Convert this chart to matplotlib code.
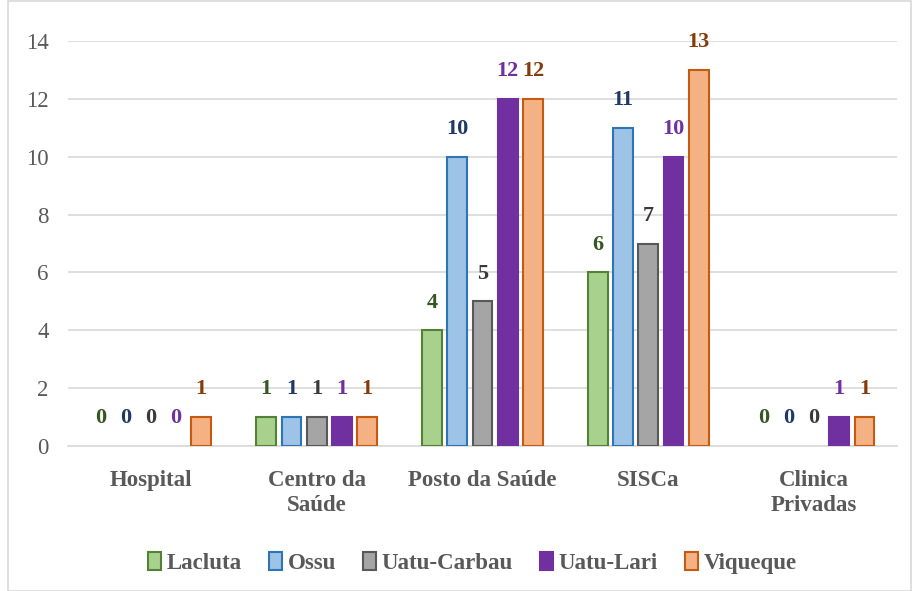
import matplotlib.pyplot as plt
import numpy as np
from matplotlib.patches import Rectangle, Patch

categories = ["Hospital", "Centro da\nSaúde", "Posto da Saúde", "SISCa", "Clinica\nPrivadas"]
series = ["Lacluta", "Ossu", "Uatu-Carbau", "Uatu-Lari", "Viqueque"]
lacluta = [0, 1, 4, 6, 0]
ossu = [0, 1, 10, 11, 0]
uatu_carbau = [0, 1, 5, 7, 0]
uatu_lari = [0, 1, 12, 10, 1]
viqueque = [1, 1, 12, 13, 1]

fills = ["#A9D18E", "#9DC3E6", "#A5A5A5", "#7030A0", "#F4B183"]
edges = ["#538135", "#2E75B6", "#595959", "#7030A0", "#C55A11"]
label_colors = ["#375623", "#1F3864", "#3A3A3A", "#7030A0", "#843C0C"]

plt.rcParams['font.family'] = ['Liberation Serif', 'DejaVu Serif']

fig = plt.figure(figsize=(9.14, 5.91), dpi=100)
ax = fig.add_axes([0.0744, 0.2453, 0.9070, 0.6853])

x = np.arange(len(categories))
width = 0.12
pitch = 0.152
data = [lacluta, ossu, uatu_carbau, uatu_lari, viqueque]

for i, vals in enumerate(data):
    pos = x + (i - 2) * pitch
    # zero bars get no outline
    ec = [edges[i] if v > 0 else 'none' for v in vals]
    ax.bar(pos, vals, width, color=fills[i], edgecolor=ec, linewidth=1.5, zorder=3)
    for p, v in zip(pos, vals):
        ax.annotate(str(v), (p, v), xytext=(0, 20), textcoords='offset points',
                    ha='center', va='center', fontsize=16, fontweight='bold',
                    color=label_colors[i])

ax.set_xlim(-0.5, 4.5)
ax.set_ylim(0, 14)
ax.set_yticks(range(0, 15, 2))
ax.yaxis.grid(True, color='#D9D9D9', linewidth=1.2, zorder=0)
ax.set_axisbelow(True)
for s in ['top', 'right', 'left']:
    ax.spines[s].set_visible(False)
ax.spines['bottom'].set_color('#D9D9D9')
ax.spines['bottom'].set_linewidth(1.2)
ax.tick_params(axis='both', length=0)
ax.tick_params(axis='y', labelsize=16.5, labelcolor='#595959', pad=14)
ax.set_xticks(x)
ax.set_xticklabels(categories, fontsize=16.5, fontweight='bold', color='#595959',
                   linespacing=1.3)
ax.tick_params(axis='x', pad=17)

handles = [Patch(facecolor=fills[i], edgecolor=edges[i], linewidth=1.5, label=series[i])
           for i in range(len(series))]
leg = fig.legend(handles=handles, loc='center', bbox_to_anchor=(0.517, 0.047), ncol=5,
                 frameon=False, prop={'size': 16.5, 'weight': 'bold'}, handlelength=0.55,
                 handleheight=0.85, handletextpad=0.25, columnspacing=1.2)
for t in leg.get_texts():
    t.set_color('#595959')

fig.patches.append(Rectangle((0.009, 0.0), 0.988, 0.999, transform=fig.transFigure,
                             fill=False, edgecolor='#D9D9D9', linewidth=1.2))

fig.savefig('out.png', dpi=100)
